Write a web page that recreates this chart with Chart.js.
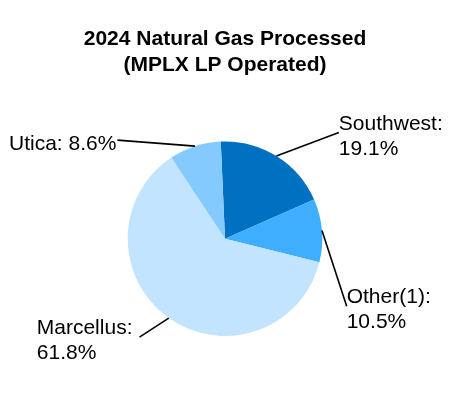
<!DOCTYPE html>
<html>
<head>
<meta charset="utf-8">
<script src="https://cdn.jsdelivr.net/npm/chart.js@4"></script>
<style>
	html, body { margin: 0; padding: 0; background: #ffffff; }
	#wrap { width: 450px; height: 400px; }
</style>
</head>
<body>
<div id="wrap"><canvas id="myChart1" width="450" height="400"></canvas></div>
<script>
const regions = ["Southwest", "Other(1)", "Marcellus", "Utica"];
const shares = [19.1, 10.5, 61.8, 8.6];
const sliceColors = ["#0070c0", "#40aeff", "#c2e4ff", "#84caff"];

// where each leader line ends: angle clockwise from top (deg), distance in radii, text side
const labelSpots = [
	{ angle: 47, dist: 1.6, side: "right", split: true },
	{ angle: 119, dist: 1.43, side: "right", split: true },
	{ angle: 221, dist: 1.34, side: "left", split: true, gap: 7 },
	{ angle: 312.5, dist: 1.5, side: "left", split: false, gap: 1 },
];

const fontFamily = "'Liberation Sans', Arial, sans-serif";

const leaderLabels = {
	id: "leaderLabels",
	afterDraw: function (chart) {
		const ctx = chart.ctx;
		const arcs = chart.getDatasetMeta(0).data;
		ctx.save();
		ctx.font = "21px " + fontFamily;
		ctx.fillStyle = "#000000";
		ctx.strokeStyle = "#000000";
		ctx.lineWidth = 1.6;
		ctx.textBaseline = "middle";
		arcs.forEach(function (arc, i) {
			const props = arc.getProps(["x", "y", "startAngle", "endAngle", "outerRadius"], true);
			const mid = (props.startAngle + props.endAngle) / 2;
			const sx = props.x + Math.cos(mid) * props.outerRadius;
			const sy = props.y + Math.sin(mid) * props.outerRadius;
			const spot = labelSpots[i];
			const a = (spot.angle - 90) * Math.PI / 180;
			const ex = props.x + Math.cos(a) * props.outerRadius * spot.dist;
			const ey = props.y + Math.sin(a) * props.outerRadius * spot.dist;
			ctx.beginPath();
			ctx.moveTo(sx, sy);
			ctx.lineTo(ex, ey);
			ctx.stroke();

			const pct = shares[i].toFixed(1) + "%";
			const lines = spot.split ? [regions[i] + ":", pct] : [regions[i] + ": " + pct];
			const lineH = 25;
			const widest = Math.max.apply(null, lines.map(function (t) { return ctx.measureText(t).width; }));
			let tx = spot.side === "right" ? ex : ex - (spot.gap || 0) - widest;
			ctx.textAlign = "left";
			lines.forEach(function (t, k) {
				// nudge down a bit so caps sit centred on the line end
				const ty = ey + 4 + (k - (lines.length - 1) / 2) * lineH;
				ctx.fillText(t, tx, ty);
			});
		});
		ctx.restore();
	},
};

const ctx = document.getElementById("myChart1").getContext("2d");
const myChart = new Chart(ctx, {
	type: "pie",
	data: {
		labels: regions,
		datasets: [
			{
				data: shares,
				backgroundColor: sliceColors,
				borderWidth: 0,
			},
		],
	},
	options: {
		responsive: false,
		animation: false,
		rotation: -2.5,
		layout: { padding: { top: 0, bottom: 64, left: 0, right: 0 } },
		plugins: {
			legend: { display: false },
			tooltip: { enabled: false },
			title: {
				display: true,
				text: ["2024 Natural Gas Processed", "(MPLX LP Operated)"],
				color: "#000000",
				font: { family: fontFamily, size: 21, weight: "bold", lineHeight: 1.2 },
				padding: { top: 27, bottom: 64 },
			},
		},
	},
	plugins: [leaderLabels],
});
</script>
</body>
</html>
